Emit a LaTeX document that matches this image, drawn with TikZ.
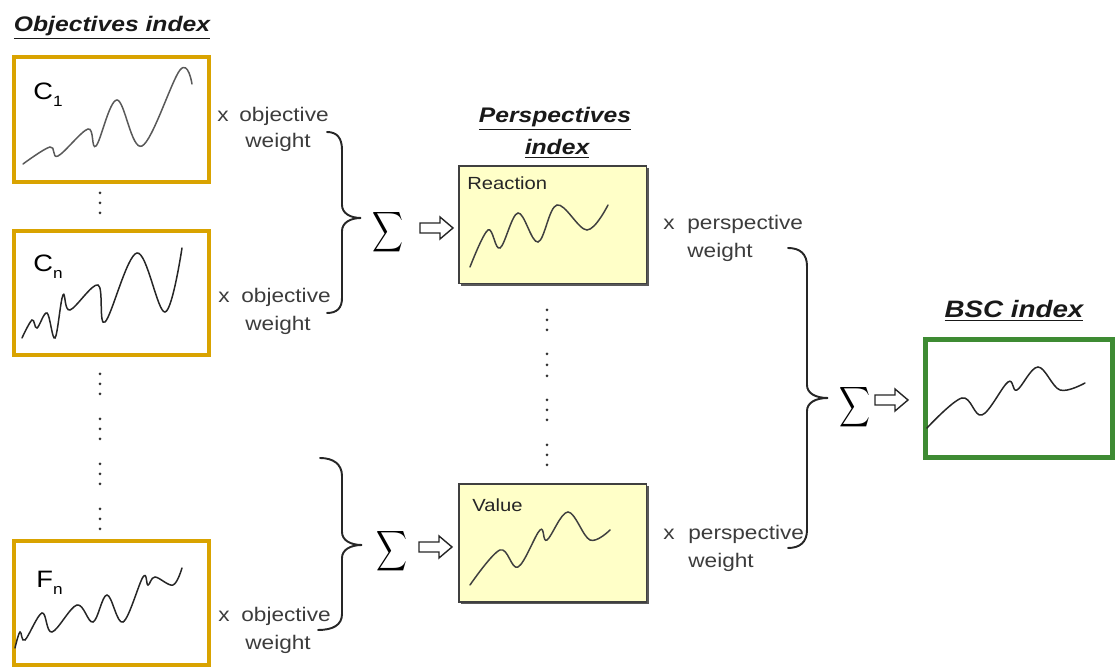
\documentclass[tikz,border=0pt]{standalone}
\usepackage{fontspec}
\setmainfont{Liberation Sans}
\newfontfamily\lblfont[FakeStretch=1.15]{Liberation Sans}
\newfontfamily\ttlfont[FakeStretch=1.17]{Liberation Sans}
\usetikzlibrary{shadows}
\definecolor{gold}{HTML}{D9A300}
\definecolor{bscgreen}{HTML}{3E8B33}
\definecolor{pyellow}{HTML}{FFFFC8}
\definecolor{lblgray}{HTML}{3C3C3C}
\begin{document}
\begin{tikzpicture}[x=0.02cm,y=-0.02cm,
  obox/.style={draw=gold, line width=2pt, fill=white, inner sep=0pt, outer sep=0pt,
    anchor=north west, minimum width=3.9cm},
  pbox/.style={draw=black!75, line width=0.6pt, fill=pyellow, inner sep=0pt, outer sep=0pt,
    anchor=north west, minimum width=3.76cm, minimum height=2.36cm,
    drop shadow={shadow xshift=1.3pt, shadow yshift=-1.3pt, fill=black!65, opacity=1}},
  gbox/.style={draw=bscgreen, line width=2.8pt, fill=white, inner sep=0pt, outer sep=0pt,
    anchor=north west, minimum width=3.74cm, minimum height=2.36cm},
  lbl/.style={anchor=base west, inner sep=0pt, text=lblgray, font=\lblfont\fontsize{11.2}{13}\selectfont},
  boxlbl/.style={anchor=base west, inner sep=0pt, text=black!85, font=\lblfont\fontsize{10}{12}\selectfont},
  clbl/.style={anchor=base west, inner sep=0pt, text=black, font=\lblfont\fontsize{13.5}{15}\selectfont},
  ttl/.style={anchor=base, inner sep=0pt, text=black!90, font=\ttlfont\bfseries\itshape\fontsize{12}{14}\selectfont},
  sig/.style={inner sep=0pt},
  brace/.style={draw=black!85, line width=1.1pt, line cap=round},
  curve/.style={draw=black!85, line width=0.85pt, line cap=round, smooth, tension=0.6},
  blockarrow/.style={draw=black!85, line width=0.8pt, fill=white, line join=miter},
  dot/.style={fill=black!80}
]
\useasboundingbox (0,0) rectangle (1117,668);

% ---------- titles ----------
\node[ttl] (t1) at (112,32) {\underline{Objectives index}};
\node[ttl] (t2) at (555,123) {\underline{Perspectives}};
\node[ttl] (t3) at (557,155) {\underline{index}};
\node[ttl, font=\ttlfont\bfseries\itshape\fontsize{13.5}{15}\selectfont] (t4) at (1014,318) {\underline{BSC index}};

% ---------- objective boxes ----------
\node[obox, minimum height=2.5cm] (c1) at (14,57) {};
\node[obox, minimum height=2.48cm] (cn) at (14,231) {};
\node[obox, minimum height=2.48cm] (fn) at (14,541) {};
\node[clbl] (c1l) at (33,100) {C\raisebox{-0.55ex}{\fontsize{8.5}{9}\selectfont 1}};
\node[clbl] (cnl) at (33,272) {C\raisebox{-0.55ex}{\fontsize{8.5}{9}\selectfont n}};
\node[clbl] (fnl) at (36,588) {F\raisebox{-0.55ex}{\fontsize{8.5}{9}\selectfont n}};

\draw[curve, draw=black!65] plot coordinates {(23,164) (50,147) (58,156) (88,129) (96,146) (117,100) (142,146) (180,70) (192,84)};
\draw[curve] plot coordinates {(22,338) (32,320) (37,328) (47,313) (55,338) (63,295) (70,310) (98,285) (105,322) (137,253) (165,312) (182,248)};
\draw[curve] plot coordinates {(15,648) (20,632) (25,640) (42,613) (52,632) (77,605) (93,622) (107,595) (123,622) (143,577) (148,585) (155,577) (173,585) (182,568)};

% ---------- dots ----------
\foreach \yy in {193,203,213,374,384,394,419,429,439,464,474,484,509,519,529}
  \fill[dot] (100,\yy) circle (0.03cm);
\foreach \yy in {310,320,330,354,365,376,400,410,420,445,455,465}
  \fill[dot] (547,\yy) circle (0.03cm);

% ---------- objective weight labels ----------
\node[lbl] (x1) at (217,122) {x};
\node[lbl] (o1) at (239,122) {objective};
\node[lbl] (w1) at (245,148) {weight};
\node[lbl] (x2) at (218,303) {x};
\node[lbl] (o2) at (241,303) {objective};
\node[lbl] (w2) at (245,331) {weight};
\node[lbl] (x3) at (218,622) {x};
\node[lbl] (o3) at (241,622) {objective};
\node[lbl] (w3) at (245,650) {weight};

% ---------- braces ----------
\draw[brace] (327,132) .. controls (337,132) and (342,138) .. (342,150) -- (342,205)
  .. controls (342,213) and (350,218) .. (361,218) .. controls (350,218) and (342,223) .. (342,231)
  -- (342,298) .. controls (342,308) and (337,313) .. (327,313);
\draw[brace] (320,458) .. controls (333,458) and (342,464) .. (342,476) -- (342,532)
  .. controls (342,540) and (350,545) .. (362,545) .. controls (350,545) and (342,550) .. (342,558)
  -- (342,614) .. controls (342,625) and (333,630) .. (318,630);
\draw[brace] (788,248) .. controls (800,248) and (807,254) .. (807,266) -- (807,385)
  .. controls (807,393) and (815,398) .. (828,398) .. controls (815,398) and (807,403) .. (807,411)
  -- (807,530) .. controls (807,542) and (800,548) .. (788,548);

% ---------- sigmas and arrows ----------
\node[sig] (s1) at (388,232) {\scalebox{1.22}[1.6]{$\displaystyle\sum$}};
\node[sig] (s2) at (392,551) {\scalebox{1.22}[1.6]{$\displaystyle\sum$}};
\node[sig] (s3) at (855,407) {\scalebox{1.22}[1.6]{$\displaystyle\sum$}};

\coordinate (a1) at (420,228);
\coordinate (a2) at (419,547);
\coordinate (a3) at (875,400);
\foreach \a in {a1,a2,a3}
  \draw[blockarrow] (\a) ++(0,-5) -- ++(20,0) -- ++(0,-6) -- ++(13,11) -- ++(-13,11) -- ++(0,-6) -- ++(-20,0) -- cycle;

% ---------- perspective boxes ----------
\node[pbox] (re) at (459,166) {};
\node[pbox] (va) at (459,484) {};
\node[boxlbl] (rel) at (467,190) {Reaction};
\node[boxlbl] (val) at (472,512) {Value};
\draw[curve, draw=black!75] plot coordinates {(470,267) (488,230) (500,248) (518,213) (538,242) (557,205) (587,230) (608,205)};
\draw[curve, draw=black!75] plot coordinates {(470,585) (500,550) (518,567) (540,530) (547,540) (568,512) (590,540) (610,530)};

% ---------- perspective weight labels ----------
\node[lbl] (px1) at (663,230) {x};
\node[lbl] (p1) at (687,230) {perspective};
\node[lbl] (pw1) at (687,258) {weight};
\node[lbl] (px2) at (663,540) {x};
\node[lbl] (p2) at (688,540) {perspective};
\node[lbl] (pw2) at (688,568) {weight};

% ---------- BSC box ----------
\node[gbox] (bsc) at (925.5,339.5) {};
\draw[curve] plot coordinates {(927,428) (962,398) (982,415) (1008,382) (1017,390) (1038,367) (1060,390) (1085,383)};
\end{tikzpicture}
\end{document}
